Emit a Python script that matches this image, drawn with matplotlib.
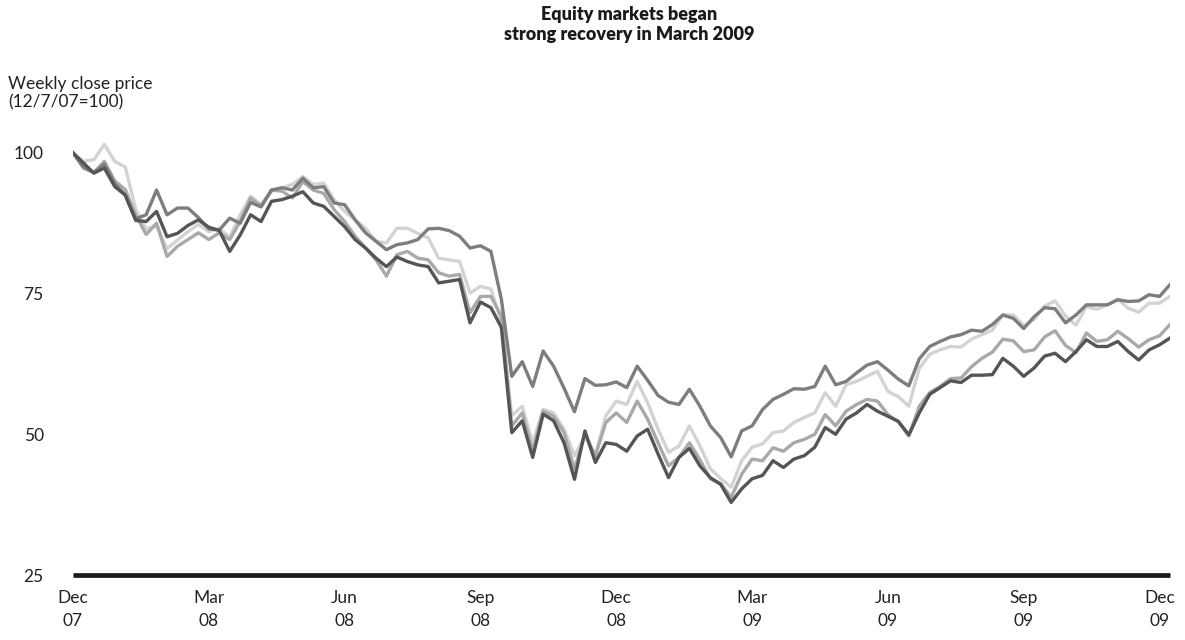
import matplotlib
matplotlib.use('Agg')
import matplotlib.pyplot as plt
import numpy as np

# weekly close, indexed to 12/7/07 = 100, Dec 07 .. Dec 09
weeks = np.arange(106)

dark = [100, 98.2, 96.4, 97.3, 94.0, 92.5, 88.0, 87.8, 89.6, 85.1,
        85.7, 87.1, 88.1, 86.8, 86.2, 82.5, 85.4, 89.0, 87.8, 91.4,
        91.7, 92.3, 93.1, 91.1, 90.5, 88.7, 86.9, 84.6, 83.1, 81.3,
        79.8, 81.5, 80.7, 80.1, 79.8, 76.9, 77.2, 77.5, 69.8, 73.5,
        72.5, 69.0, 50.3, 52.4, 45.9, 53.6, 52.4, 48.5, 42.0, 50.6,
        45.0, 48.5, 48.2, 47.0, 49.7, 50.9, 46.5, 42.3, 45.9, 47.5,
        44.4, 42.3, 41.1, 37.9, 40.3, 42.1, 42.7, 45.3, 44.1, 45.6,
        46.2, 47.7, 51.2, 50.0, 52.7, 53.8, 55.3, 54.1, 53.2, 52.3,
        49.9, 53.8, 57.1, 58.3, 59.5, 59.2, 60.5, 60.5, 60.6, 63.5,
        62.1, 60.3, 61.8, 63.9, 64.4, 62.9, 64.7, 66.8, 65.6, 65.6,
        66.5, 64.7, 63.2, 65.0, 65.9, 67.1]

medium = [100, 97.5, 96.5, 98.0, 94.5, 92.5, 88.3, 89.0, 93.4, 89.0,
          90.2, 90.2, 88.5, 86.5, 86.3, 88.4, 87.5, 91.2, 90.4, 93.4,
          93.8, 93.4, 95.5, 93.8, 94.0, 91.1, 90.8, 88.1, 85.8, 84.3,
          82.8, 83.7, 84.0, 84.6, 86.5, 86.6, 86.2, 85.2, 83.1, 83.5,
          82.5, 74.0, 60.3, 62.9, 58.5, 64.8, 62.1, 58.2, 54.0, 59.9,
          58.7, 58.8, 59.3, 58.3, 62.1, 59.6, 56.9, 55.7, 55.3, 58.0,
          55.0, 51.5, 49.4, 46.0, 50.6, 51.5, 54.4, 56.2, 57.1, 58.1,
          58.0, 58.5, 62.1, 58.8, 59.4, 60.9, 62.3, 62.9, 61.4, 59.8,
          58.6, 63.4, 65.6, 66.5, 67.3, 67.7, 68.5, 68.3, 69.5, 71.2,
          70.6, 68.8, 70.9, 72.5, 72.3, 69.8, 71.2, 73.0, 73.0, 73.0,
          73.9, 73.6, 73.7, 74.8, 74.5, 76.6]

light = [100, 98.5, 98.8, 101.5, 98.5, 97.5, 90.0, 86.5, 87.0, 83.0,
         84.5, 86.0, 87.3, 86.0, 86.6, 85.0, 89.0, 92.3, 90.8, 93.2,
         93.8, 94.4, 95.8, 94.4, 94.6, 91.7, 89.6, 88.1, 86.6, 84.3,
         84.0, 86.6, 86.6, 85.7, 84.9, 81.3, 81.0, 80.7, 75.1, 76.3,
         75.8, 70.0, 53.3, 55.0, 48.5, 54.4, 53.8, 50.9, 46.2, 49.7,
         46.2, 53.3, 55.9, 55.3, 59.4, 55.6, 50.9, 46.8, 47.9, 51.5,
         48.0, 43.9, 42.1, 40.6, 45.3, 47.7, 48.3, 50.3, 50.6, 52.1,
         53.0, 53.8, 57.4, 55.0, 58.8, 59.4, 60.3, 61.2, 57.6, 56.7,
         55.0, 61.7, 64.2, 65.0, 65.6, 65.5, 66.9, 67.7, 68.5, 71.2,
         71.2, 69.3, 70.4, 72.8, 73.7, 71.0, 69.4, 72.7, 72.2, 73.0,
         74.0, 72.4, 71.7, 73.3, 73.3, 74.5]

silver = [100, 97.3, 96.5, 98.5, 95.0, 93.5, 89.0, 85.5, 87.5, 81.6,
          83.4, 84.6, 85.8, 84.6, 85.8, 84.6, 87.8, 92.0, 90.5, 93.4,
          93.2, 92.0, 94.9, 93.4, 92.8, 89.9, 87.8, 85.2, 83.1, 81.0,
          78.1, 81.9, 82.5, 81.3, 81.0, 78.7, 78.1, 78.4, 71.6, 74.5,
          74.5, 71.0, 51.5, 53.8, 47.0, 54.1, 53.2, 50.3, 43.8, 50.0,
          46.2, 52.1, 53.8, 52.1, 55.9, 52.7, 48.5, 44.4, 45.9, 48.5,
          45.5, 42.1, 41.2, 38.8, 42.9, 45.6, 45.3, 47.6, 47.0, 48.5,
          49.1, 50.0, 53.5, 51.5, 54.1, 55.3, 56.2, 55.9, 53.5, 52.2,
          49.7, 55.0, 57.4, 58.5, 59.9, 60.0, 62.0, 63.5, 64.6, 66.9,
          66.6, 64.7, 65.0, 67.3, 68.4, 65.8, 64.5, 68.0, 66.5, 66.8,
          68.3, 67.0, 65.5, 66.8, 67.5, 69.5]

tick_weeks = [0, 13, 26, 39, 52, 65, 78, 91, 104]
tick_labels = ['Dec\n07', 'Mar\n08', 'Jun\n08', 'Sep\n08', 'Dec\n08',
               'Mar\n09', 'Jun\n09', 'Sep\n09', 'Dec\n09']
y_ticks = [25, 50, 75, 100]

plt.rcParams['font.family'] = ['Lato', 'DejaVu Sans']

W, H = 1185, 640
fig = plt.figure(figsize=(W / 100, H / 100), dpi=100)
ax = fig.add_axes([73 / W, (H - 575) / H, (1170 - 73) / W, (575 - 136) / H])

ax.plot(weeks, light, color='#d3d3d3', lw=2.4)
ax.plot(weeks, silver, color='#a9a9a9', lw=2.4)
ax.plot(weeks, medium, color='#7d7d7d', lw=2.4)
ax.plot(weeks, dark, color='#555555', lw=2.4)

ax.set_xlim(0, 105)
ax.set_ylim(25, 103)
for s in ['top', 'right', 'left']:
    ax.spines[s].set_visible(False)
ax.spines['bottom'].set_linewidth(3.4)
ax.spines['bottom'].set_color('#1a1a1a')
ax.spines['bottom'].set_capstyle('butt')

ax.set_xticks(tick_weeks)
ax.set_xticklabels(tick_labels, linespacing=1.55)
ax.set_yticks(y_ticks)
ax.tick_params(axis='x', length=0, pad=11, labelsize=12.5, colors='#222222')
ax.tick_params(axis='y', length=0, pad=21, labelsize=12.5, colors='#222222')

fig.text(8 / W, 1 - 76 / H, 'Weekly close price\n(12/7/07=100)', ha='left', va='top',
         fontsize=12.5, color='#222222', linespacing=1.15)
fig.text(629 / W, 1 - 6 / H, 'Equity markets began\nstrong recovery in March 2009',
         ha='center', va='top', fontsize=13, fontweight='heavy', color='#1a1a1a',
         linespacing=1.2)

fig.savefig('out.png', dpi=100)
